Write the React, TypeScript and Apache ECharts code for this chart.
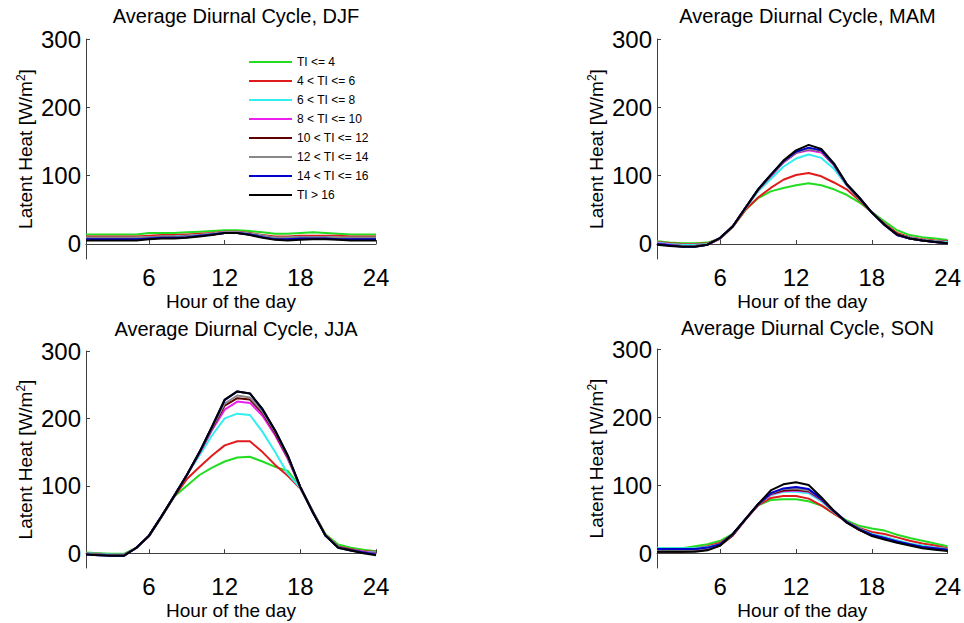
import React, { useEffect, useRef } from 'react';
import * as echarts from 'echarts';

const hours = [1, 2, 3, 4, 5, 6, 7, 8, 9, 10, 11, 12, 13, 14, 15, 16, 17, 18, 19, 20, 21, 22, 23, 24];
const xTicks = [6, 12, 18, 24];
const yTicks = [0, 100, 200, 300];

const classLabels = [
    'TI <= 4',
    '4 < TI <= 6',
    '6 < TI <= 8',
    '8 < TI <= 10',
    '10 < TI <= 12',
    '12 < TI <= 14',
    '14 < TI <= 16',
    'TI > 16',
];
const classColors = ['#22dd22', '#e01b1b', '#33eeee', '#ee1fee', '#600000', '#888888', '#0000cc', '#000000'];

const seasonTitles = [
    'Average Diurnal Cycle, DJF',
    'Average Diurnal Cycle, MAM',
    'Average Diurnal Cycle, JJA',
    'Average Diurnal Cycle, SON',
];

// one row per TI class, same order as classLabels
const djf = [
    [14, 14, 14, 14, 14, 16, 16, 16, 17, 18, 19, 20, 20, 19, 17, 15, 15, 16, 17, 16, 15, 14, 14, 14],
    [11, 11, 11, 11, 11, 12, 13, 13, 14, 15, 16, 18, 18, 16, 13, 11, 11, 12, 12, 12, 12, 11, 11, 11],
    [9, 9, 9, 9, 9, 10, 11, 11, 12, 13, 15, 17, 17, 15, 12, 9, 9, 10, 10, 10, 9, 9, 9, 9],
    [8, 8, 8, 8, 8, 9, 10, 10, 11, 12, 14, 17, 17, 14, 11, 8, 8, 9, 9, 9, 8, 8, 8, 8],
    [8, 8, 8, 8, 8, 9, 10, 10, 11, 12, 14, 16, 16, 14, 11, 8, 8, 9, 9, 9, 8, 8, 8, 8],
    [9, 9, 9, 9, 9, 10, 10, 10, 11, 13, 14, 17, 17, 14, 11, 9, 9, 10, 10, 10, 9, 9, 9, 9],
    [7, 7, 7, 7, 7, 8, 9, 9, 10, 12, 14, 16, 16, 14, 10, 7, 7, 8, 8, 8, 7, 7, 7, 7],
    [5, 5, 5, 5, 5, 7, 8, 8, 9, 11, 13, 16, 16, 13, 9, 6, 5, 6, 7, 7, 6, 5, 5, 5],
];

const mam = [
    [4, 2, 1, 1, 2, 8, 25, 50, 67, 77, 82, 86, 89, 86, 80, 72, 61, 47, 33, 20, 13, 10, 8, 6],
    [3, 1, 0, 0, 1, 8, 25, 50, 68, 82, 94, 101, 104, 99, 90, 80, 64, 46, 30, 16, 10, 7, 5, 4],
    [2, 0, -1, -1, 0, 8, 26, 52, 77, 95, 113, 125, 131, 126, 110, 86, 66, 46, 29, 14, 9, 6, 4, 3],
    [1, -1, -3, -3, -1, 8, 26, 53, 79, 99, 119, 133, 137, 134, 115, 87, 67, 46, 28, 13, 8, 5, 3, 1],
    [0, -2, -3, -3, -1, 8, 26, 53, 79, 100, 120, 134, 139, 136, 116, 87, 67, 46, 28, 13, 8, 5, 3, 1],
    [0, -2, -3, -3, -1, 8, 26, 53, 79, 100, 120, 134, 139, 136, 116, 88, 68, 46, 28, 13, 8, 5, 3, 1],
    [0, -2, -4, -4, -1, 9, 26, 53, 80, 101, 121, 135, 141, 137, 117, 88, 68, 46, 28, 13, 8, 5, 3, 1],
    [-1, -3, -4, -4, -1, 9, 26, 53, 80, 101, 122, 137, 145, 139, 118, 88, 68, 46, 28, 14, 8, 5, 3, 1],
];

const jja = [
    [1, 0, -1, -1, 8, 25, 54, 84, 100, 116, 127, 136, 142, 143, 136, 128, 122, 98, 62, 28, 13, 8, 5, 3],
    [0, -1, -2, -2, 8, 25, 54, 84, 110, 128, 145, 160, 166, 166, 150, 131, 115, 96, 61, 27, 10, 6, 3, 2],
    [0, -1, -2, -2, 8, 26, 55, 85, 116, 145, 175, 200, 207, 205, 180, 150, 118, 97, 61, 26, 9, 5, 2, 1],
    [-1, -2, -3, -3, 8, 26, 55, 85, 116, 148, 183, 213, 225, 223, 204, 175, 140, 98, 61, 26, 9, 5, 2, 0],
    [-1, -2, -3, -3, 8, 26, 55, 85, 116, 149, 185, 219, 230, 228, 208, 178, 142, 98, 61, 26, 9, 5, 1, -1],
    [-1, -2, -3, -3, 8, 26, 55, 85, 116, 149, 186, 222, 234, 231, 210, 180, 143, 98, 61, 26, 9, 4, 1, -1],
    [-2, -3, -4, -4, 8, 26, 55, 85, 116, 150, 188, 227, 240, 237, 213, 182, 145, 98, 60, 26, 8, 4, 1, -2],
    [-2, -3, -4, -4, 8, 26, 55, 85, 116, 150, 188, 228, 240, 237, 214, 182, 145, 98, 60, 26, 8, 4, 0, -3],
];

const son = [
    [7, 7, 7, 10, 13, 18, 28, 50, 70, 78, 79, 79, 76, 70, 58, 48, 40, 36, 33, 27, 22, 18, 14, 10],
    [5, 5, 5, 7, 10, 15, 27, 50, 70, 81, 84, 84, 80, 70, 58, 46, 37, 31, 28, 23, 18, 14, 11, 7],
    [7, 7, 7, 7, 9, 13, 27, 50, 71, 85, 90, 90, 88, 76, 60, 46, 36, 28, 24, 19, 14, 11, 8, 6],
    [3, 3, 3, 4, 6, 12, 26, 49, 71, 86, 91, 92, 90, 78, 61, 45, 34, 26, 22, 17, 12, 9, 7, 5],
    [2, 2, 2, 3, 5, 11, 26, 49, 71, 87, 92, 93, 91, 79, 61, 45, 34, 26, 21, 16, 12, 9, 6, 4],
    [4, 4, 4, 5, 7, 12, 27, 50, 72, 88, 94, 95, 92, 80, 62, 46, 35, 27, 22, 17, 13, 9, 7, 5],
    [6, 6, 6, 6, 8, 13, 28, 50, 72, 88, 95, 97, 94, 80, 62, 46, 35, 27, 22, 17, 13, 9, 7, 5],
    [2, 2, 2, 2, 4, 11, 28, 50, 72, 92, 101, 104, 100, 82, 62, 45, 34, 25, 20, 15, 11, 7, 5, 3],
];

const seasons = [djf, mam, jja, son];

// panel boxes in px: left, top, width, height
const panels = [
    { left: 86, top: 39, width: 290, height: 220, titleTop: 1 },
    { left: 657, top: 39, width: 291, height: 220, titleTop: 1 },
    { left: 86, top: 351, width: 290, height: 217, titleTop: 314 },
    { left: 657, top: 349, width: 291, height: 219, titleTop: 313 },
];

const FONT = 'Liberation Sans, Arial, sans-serif';
const AXIS_COLOR = '#404040';

const App: React.FC = () => {
    const chartRef = useRef<HTMLDivElement>(null);

    useEffect(() => {
        if (!chartRef.current) return;
        const chart = echarts.init(chartRef.current, null, { renderer: 'svg' });

        const series: any[] = [];
        seasons.forEach((rows, p) => {
            rows.forEach((vals, k) => {
                series.push({
                    name: classLabels[k],
                    type: 'line',
                    xAxisIndex: p,
                    yAxisIndex: p,
                    data: hours.map((h, j) => [h, vals[j]]),
                    showSymbol: false,
                    symbol: 'none',
                    lineStyle: { color: classColors[k], width: 2 },
                    itemStyle: { color: classColors[k] },
                    z: 2 + k,
                });
            });
        });

        chart.setOption({
            animation: false,
            backgroundColor: '#ffffff',
            textStyle: { fontFamily: FONT },
            title: panels.map((b, p) => ({
                text: seasonTitles[p],
                left: b.left + b.width / 2,
                top: b.titleTop,
                textAlign: 'center',
                textStyle: { fontFamily: FONT, fontSize: 20, fontWeight: 'normal', color: '#000' },
            })),
            legend: {
                orient: 'vertical',
                left: 244,
                top: 50,
                data: classLabels,
                icon: 'rect',
                itemWidth: 43,
                itemHeight: 2,
                itemGap: 5,
                selectedMode: false,
                textStyle: { fontFamily: FONT, fontSize: 12, lineHeight: 14, color: '#000' },
            },
            grid: panels.map(b => ({ left: b.left, top: b.top, width: b.width, height: b.height })),
            xAxis: panels.map((_, p) => ({
                type: 'value',
                gridIndex: p,
                min: 1,
                max: 24,
                name: 'Hour of the day',
                nameLocation: 'middle',
                nameGap: 33,
                nameTextStyle: { fontFamily: FONT, fontSize: 19, color: '#000' },
                axisLine: { show: true, lineStyle: { color: AXIS_COLOR, width: 1 } },
                axisTick: { show: true, inside: true, length: 4, customValues: xTicks, lineStyle: { color: AXIS_COLOR } },
                axisLabel: { customValues: xTicks, margin: 6, fontFamily: FONT, fontSize: 24, color: '#000' },
                splitLine: { show: false },
            })),
            yAxis: panels.map((_, p) => ({
                type: 'value',
                gridIndex: p,
                min: -22,
                max: 300,
                name: 'Latent Heat [W/m{sup|2}]',
                nameLocation: 'middle',
                nameRotate: 90,
                nameGap: 50,
                nameTextStyle: {
                    fontFamily: FONT,
                    fontSize: 19,
                    color: '#000',
                    rich: {
                        sup: { fontFamily: FONT, fontSize: 12, color: '#000', padding: [0, 0, 9, 0] },
                    },
                },
                axisLine: { show: true, onZero: false, lineStyle: { color: AXIS_COLOR, width: 1 } },
                axisTick: { show: true, inside: true, length: 4, customValues: yTicks, lineStyle: { color: AXIS_COLOR } },
                axisLabel: { customValues: yTicks, margin: 5, fontFamily: FONT, fontSize: 24, color: '#000' },
                splitLine: { show: false },
            })),
            series,
        });

        return () => {
            chart.dispose();
        };
    }, []);

    return (
        <div
            ref={chartRef}
            style={{ position: 'fixed', left: 0, top: 0, width: 964, height: 623, background: '#fff' }}
        />
    );
};

export default App;
